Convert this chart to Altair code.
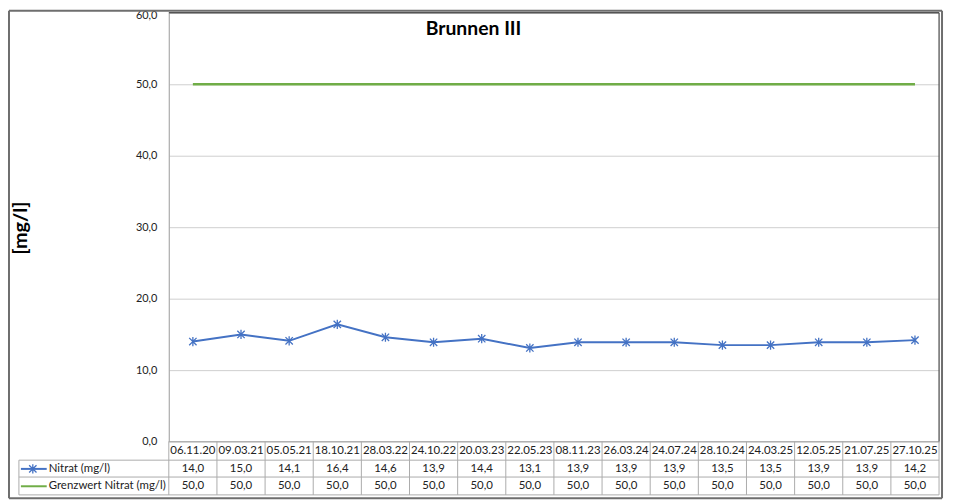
import altair as alt
import pandas as pd

# ---------------- data ----------------
dates = ["06.11.20", "09.03.21", "05.05.21", "18.10.21", "28.03.22", "24.10.22",
         "20.03.23", "22.05.23", "08.11.23", "26.03.24", "24.07.24", "28.10.24",
         "24.03.25", "12.05.25", "21.07.25", "27.10.25"]
nitrat = [14.0, 15.0, 14.1, 16.4, 14.6, 13.9, 14.4, 13.1, 13.9, 13.9, 13.9, 13.5,
          13.5, 13.9, 13.9, 14.2]
grenzwert = [50.0] * 16
series_names = ["Nitrat (mg/l)", "Grenzwert Nitrat (mg/l)"]
y_ticks = [0, 10, 20, 30, 40, 50, 60]
title_text = "Brunnen III"
y_title = "[mg/l]"

def de(v):
    return f"{v:.1f}".replace(".", ",")

df = pd.DataFrame({
    "date": dates,
    "nitrat": nitrat,
    "grenz": grenzwert,
    "nitrat_lbl": [de(v) for v in nitrat],
    "grenz_lbl": [de(v) for v in grenzwert],
})
one = pd.DataFrame({"k": [0]})

# ---------------- geometry / style ----------------
W, H = 776, 432
STEP = W / len(dates)
FONT = "Lato"
BLUE = "#4472C4"
GREEN = "#70AD47"
TABLE = "#ABABAB"
TXT = "#222222"
ROW_H = [432, 450.7, 467.7, 485.7]  # table horizontal lines
ROW_C = [441.5, 459.5, 477]         # row text centres
LEFT = -151
TFS = 11.5

STAR = "M-1,-1L1,1M-1,1L1,-1M0,-1.25L0,1.25"

x_enc = alt.X("date:N", sort=dates,
              scale=alt.Scale(type="point", padding=0.5), axis=None)

base = alt.Chart(df)

grid = base.mark_point(opacity=0).encode(
    x=x_enc,
    y=alt.Y("nitrat:Q",
            scale=alt.Scale(domain=[0, 60], nice=False, zero=True),
            axis=alt.Axis(values=y_ticks, title=None, ticks=False,
                          labelExpr="replace(format(datum.value, '.1f'), '.', ',')",
                          labelFont=FONT, labelFontSize=11, labelColor=TXT,
                          labelPadding=12, domainColor="#A6A6A6",
                          labelOffset={"condition": {"test": "datum.value == 60", "value": 3},
                                       "value": 0},
                          gridColor="#CFCFCF", gridWidth=1)),
)

green_line = base.mark_line(color=GREEN, strokeWidth=2.5).encode(
    x=x_enc, y="grenz:Q")

blue_line = base.mark_line(color=BLUE, strokeWidth=2).encode(
    x=x_enc, y="nitrat:Q")

blue_pts = base.mark_point(shape=STAR, size=55, filled=False,
                           color=BLUE, strokeWidth=1.3, opacity=1).encode(
    x=x_enc, y="nitrat:Q")

# table vertical separators (left edge of each column)
vlines = base.mark_rule(color=TABLE, strokeWidth=1, xOffset=-STEP / 2).encode(
    x=x_enc, y=alt.value(ROW_H[0]), y2=alt.value(ROW_H[3]))

hdr = base.mark_text(font=FONT, fontSize=TFS, color=TXT, baseline="middle").encode(
    x=x_enc, y=alt.value(ROW_C[0]), text="date:N")
row1 = base.mark_text(font=FONT, fontSize=TFS, color=TXT, baseline="middle").encode(
    x=x_enc, y=alt.value(ROW_C[1]), text="nitrat_lbl:N")
row2 = base.mark_text(font=FONT, fontSize=TFS, color=TXT, baseline="middle").encode(
    x=x_enc, y=alt.value(ROW_C[2]), text="grenz_lbl:N")

deco = alt.Chart(one)

def hrule(y, x1, x2, color=TABLE, w=1):
    return deco.mark_rule(color=color, strokeWidth=w).encode(
        x=alt.value(x1), x2=alt.value(x2), y=alt.value(y))

def vrule(x, y1, y2, color=TABLE, w=1):
    return deco.mark_rule(color=color, strokeWidth=w).encode(
        x=alt.value(x), y=alt.value(y1), y2=alt.value(y2))

table_lines = [
    hrule(ROW_H[0], 0, W),
    hrule(ROW_H[1], LEFT, W),
    hrule(ROW_H[2], LEFT, W),
    hrule(ROW_H[3], LEFT, W),
    vrule(LEFT, ROW_H[1], ROW_H[3]),
    vrule(W, ROW_H[0], ROW_H[3]),
]

plot_border = [
    hrule(0, 0, W, color="#111111", w=1),
    vrule(W, 0, ROW_H[0], color="#505050", w=1.2),
]

# outer frame
outer = [
    hrule(-2, -161, 779, color="#6E6E6E", w=2),
    hrule(489, -161, 779, color="#6E6E6E", w=2),
    vrule(-161, -2, 489, color="#6E6E6E", w=2),
    vrule(779, -2, 489, color="#6E6E6E", w=2),
]

# legend keys in the table's left column
key_df = pd.DataFrame({"name": series_names,
                       "y": [ROW_C[1], ROW_C[2]],
                       "color": [BLUE, GREEN]})
keys = alt.Chart(key_df)
key_lines = keys.mark_rule(strokeWidth=2).encode(
    x=alt.value(LEFT + 2), x2=alt.value(-123),
    y=alt.Y("y:Q", scale=None),
    color=alt.Color("color:N", scale=None))
key_star = alt.Chart(key_df.iloc[:1]).mark_point(
    shape=STAR, size=55, filled=False, color=BLUE, strokeWidth=1.3, opacity=1).encode(
    x=alt.value(-137), y=alt.Y("y:Q", scale=None))
key_text = keys.mark_text(font=FONT, fontSize=TFS, color=TXT, align="left",
                          baseline="middle").encode(
    x=alt.value(-121), y=alt.Y("y:Q", scale=None), text="name:N")

title = deco.mark_text(font=FONT, fontSize=19.5, fontWeight="bold", color="#000000",
                       baseline="middle", align="center").encode(
    x=alt.value(307), y=alt.value(16.5), text=alt.value(title_text))

ytitle = deco.mark_text(font=FONT, fontSize=20, fontWeight="bold", color="#000000",
                        baseline="middle", align="center", angle=270).encode(
    x=alt.value(-149), y=alt.value(217), text=alt.value(y_title))

chart = alt.layer(
    grid, *table_lines, vlines, green_line, blue_line, blue_pts,
    hdr, row1, row2, *plot_border, *outer,
    key_lines, key_star, key_text, title, ytitle,
).properties(
    width=W, height=H,
    autosize=alt.AutoSizeParams(type="none"),
    padding={"left": 162, "top": 3, "right": 6, "bottom": 58},
).configure_view(stroke=None).configure(background="white")

chart.save("out.html", embed_options={"renderer": "svg", "actions": False})
